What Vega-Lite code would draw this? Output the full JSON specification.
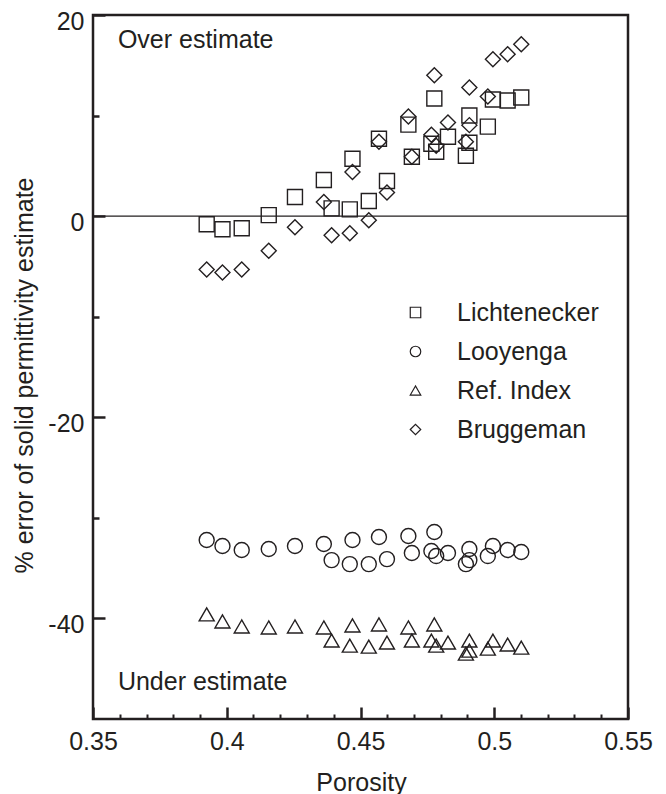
{
  "$schema": "https://vega.github.io/schema/vega-lite/v6.json",
  "width": 535,
  "height": 704,
  "autosize": {"type": "none"},
  "padding": {"left": 93, "top": 15, "right": 38, "bottom": 75},
  "config": {
    "font": "Liberation Sans",
    "view": {"stroke": "#231f20", "strokeWidth": 2.5},
    "axis": {
      "grid": false,
      "domain": false,
      "tickColor": "#231f20",
      "labelColor": "#231f20",
      "titleColor": "#231f20",
      "labelFontSize": 25,
      "titleFontSize": 25,
      "titleFontWeight": "normal",
      "zindex": 1
    }
  },
  "datasets": {
    "pts": [
      {"porosity": 0.3925, "method": "Lichtenecker", "error": -0.8},
      {"porosity": 0.3984, "method": "Lichtenecker", "error": -1.3},
      {"porosity": 0.4056, "method": "Lichtenecker", "error": -1.2},
      {"porosity": 0.4157, "method": "Lichtenecker", "error": 0.1},
      {"porosity": 0.4255, "method": "Lichtenecker", "error": 1.9},
      {"porosity": 0.4363, "method": "Lichtenecker", "error": 3.6},
      {"porosity": 0.4392, "method": "Lichtenecker", "error": 0.77},
      {"porosity": 0.446, "method": "Lichtenecker", "error": 0.67},
      {"porosity": 0.447, "method": "Lichtenecker", "error": 5.7},
      {"porosity": 0.4531, "method": "Lichtenecker", "error": 1.5},
      {"porosity": 0.4569, "method": "Lichtenecker", "error": 7.7},
      {"porosity": 0.4599, "method": "Lichtenecker", "error": 3.5},
      {"porosity": 0.4679, "method": "Lichtenecker", "error": 9.1},
      {"porosity": 0.4692, "method": "Lichtenecker", "error": 5.9},
      {"porosity": 0.4765, "method": "Lichtenecker", "error": 7.2},
      {"porosity": 0.4776, "method": "Lichtenecker", "error": 11.7},
      {"porosity": 0.4783, "method": "Lichtenecker", "error": 6.4},
      {"porosity": 0.4827, "method": "Lichtenecker", "error": 7.9},
      {"porosity": 0.4894, "method": "Lichtenecker", "error": 6.0},
      {"porosity": 0.4907, "method": "Lichtenecker", "error": 10.0},
      {"porosity": 0.4907, "method": "Lichtenecker", "error": 7.3},
      {"porosity": 0.4976, "method": "Lichtenecker", "error": 8.9},
      {"porosity": 0.4995, "method": "Lichtenecker", "error": 11.6},
      {"porosity": 0.505, "method": "Lichtenecker", "error": 11.5},
      {"porosity": 0.5101, "method": "Lichtenecker", "error": 11.8},

      {"porosity": 0.3925, "method": "Bruggeman", "error": -5.3},
      {"porosity": 0.3984, "method": "Bruggeman", "error": -5.6},
      {"porosity": 0.4056, "method": "Bruggeman", "error": -5.3},
      {"porosity": 0.4157, "method": "Bruggeman", "error": -3.45},
      {"porosity": 0.4255, "method": "Bruggeman", "error": -1.1},
      {"porosity": 0.4363, "method": "Bruggeman", "error": 1.4},
      {"porosity": 0.4392, "method": "Bruggeman", "error": -1.9},
      {"porosity": 0.446, "method": "Bruggeman", "error": -1.7},
      {"porosity": 0.447, "method": "Bruggeman", "error": 4.4},
      {"porosity": 0.4531, "method": "Bruggeman", "error": -0.4},
      {"porosity": 0.4569, "method": "Bruggeman", "error": 7.4},
      {"porosity": 0.4599, "method": "Bruggeman", "error": 2.35},
      {"porosity": 0.4679, "method": "Bruggeman", "error": 9.9},
      {"porosity": 0.4692, "method": "Bruggeman", "error": 5.9},
      {"porosity": 0.4765, "method": "Bruggeman", "error": 8.1},
      {"porosity": 0.4776, "method": "Bruggeman", "error": 14.0},
      {"porosity": 0.4783, "method": "Bruggeman", "error": 7.0},
      {"porosity": 0.4827, "method": "Bruggeman", "error": 9.3},
      {"porosity": 0.4894, "method": "Bruggeman", "error": 7.4},
      {"porosity": 0.4907, "method": "Bruggeman", "error": 12.8},
      {"porosity": 0.4907, "method": "Bruggeman", "error": 9.05},
      {"porosity": 0.4976, "method": "Bruggeman", "error": 11.9},
      {"porosity": 0.4995, "method": "Bruggeman", "error": 15.6},
      {"porosity": 0.505, "method": "Bruggeman", "error": 16.1},
      {"porosity": 0.5101, "method": "Bruggeman", "error": 17.1},

      {"porosity": 0.3925, "method": "Looyenga", "error": -32.2},
      {"porosity": 0.3984, "method": "Looyenga", "error": -32.8},
      {"porosity": 0.4056, "method": "Looyenga", "error": -33.2},
      {"porosity": 0.4157, "method": "Looyenga", "error": -33.1},
      {"porosity": 0.4255, "method": "Looyenga", "error": -32.8},
      {"porosity": 0.4363, "method": "Looyenga", "error": -32.6},
      {"porosity": 0.4392, "method": "Looyenga", "error": -34.2},
      {"porosity": 0.446, "method": "Looyenga", "error": -34.6},
      {"porosity": 0.447, "method": "Looyenga", "error": -32.2},
      {"porosity": 0.4531, "method": "Looyenga", "error": -34.6},
      {"porosity": 0.4569, "method": "Looyenga", "error": -31.9},
      {"porosity": 0.4599, "method": "Looyenga", "error": -34.1},
      {"porosity": 0.4679, "method": "Looyenga", "error": -31.8},
      {"porosity": 0.4692, "method": "Looyenga", "error": -33.5},
      {"porosity": 0.4765, "method": "Looyenga", "error": -33.3},
      {"porosity": 0.4776, "method": "Looyenga", "error": -31.4},
      {"porosity": 0.4783, "method": "Looyenga", "error": -33.8},
      {"porosity": 0.4827, "method": "Looyenga", "error": -33.5},
      {"porosity": 0.4894, "method": "Looyenga", "error": -34.6},
      {"porosity": 0.4907, "method": "Looyenga", "error": -33.1},
      {"porosity": 0.4907, "method": "Looyenga", "error": -34.2},
      {"porosity": 0.4976, "method": "Looyenga", "error": -33.8},
      {"porosity": 0.4995, "method": "Looyenga", "error": -32.8},
      {"porosity": 0.505, "method": "Looyenga", "error": -33.2},
      {"porosity": 0.5101, "method": "Looyenga", "error": -33.4},

      {"porosity": 0.3925, "method": "Ref. Index", "error": -39.6},
      {"porosity": 0.3984, "method": "Ref. Index", "error": -40.3},
      {"porosity": 0.4056, "method": "Ref. Index", "error": -40.8},
      {"porosity": 0.4157, "method": "Ref. Index", "error": -40.9},
      {"porosity": 0.4255, "method": "Ref. Index", "error": -40.8},
      {"porosity": 0.4363, "method": "Ref. Index", "error": -40.9},
      {"porosity": 0.4392, "method": "Ref. Index", "error": -42.2},
      {"porosity": 0.446, "method": "Ref. Index", "error": -42.7},
      {"porosity": 0.447, "method": "Ref. Index", "error": -40.7},
      {"porosity": 0.4531, "method": "Ref. Index", "error": -42.8},
      {"porosity": 0.4569, "method": "Ref. Index", "error": -40.6},
      {"porosity": 0.4599, "method": "Ref. Index", "error": -42.4},
      {"porosity": 0.4679, "method": "Ref. Index", "error": -40.9},
      {"porosity": 0.4692, "method": "Ref. Index", "error": -42.2},
      {"porosity": 0.4765, "method": "Ref. Index", "error": -42.2},
      {"porosity": 0.4776, "method": "Ref. Index", "error": -40.6},
      {"porosity": 0.4783, "method": "Ref. Index", "error": -42.7},
      {"porosity": 0.4827, "method": "Ref. Index", "error": -42.4},
      {"porosity": 0.4894, "method": "Ref. Index", "error": -43.5},
      {"porosity": 0.4907, "method": "Ref. Index", "error": -42.2},
      {"porosity": 0.4907, "method": "Ref. Index", "error": -43.2},
      {"porosity": 0.4976, "method": "Ref. Index", "error": -43.0},
      {"porosity": 0.4995, "method": "Ref. Index", "error": -42.2},
      {"porosity": 0.505, "method": "Ref. Index", "error": -42.6},
      {"porosity": 0.5101, "method": "Ref. Index", "error": -42.9}
    ]
  },
  "resolve": {"axis": {"x": "independent", "y": "independent"}},
  "layer": [
    {
      "data": {"values": [{}]},
      "mark": {"type": "rule", "color": "#231f20", "strokeWidth": 1.2},
      "encoding": {
        "y": {
          "datum": 0,
          "type": "quantitative",
          "scale": {"domain": [-50, 20], "nice": false, "zero": false},
          "axis": {
            "orient": "left",
            "values": [10, -10, -30],
            "offset": -6,
            "tickSize": 6,
            "tickWidth": 2.5,
            "labels": false,
            "title": null
          }
        }
      }
    },
    {
      "data": {"name": "pts"},
      "mark": {"type": "point", "filled": false, "size": 225, "strokeWidth": 1.4, "color": "#231f20", "opacity": 1},
      "encoding": {
        "x": {
          "field": "porosity",
          "type": "quantitative",
          "scale": {"domain": [0.35, 0.55], "nice": false, "zero": false},
          "axis": {
            "orient": "bottom",
            "values": [0.35, 0.4, 0.45, 0.5, 0.55],
            "offset": -12,
            "tickSize": 12,
            "tickWidth": 2.5,
            "labelPadding": 10,
            "labelExpr": "'' + datum.value",
            "labelFlush": false,
            "title": "Porosity",
            "titleX": 268,
            "titleY": 83,
            "titleBaseline": "alphabetic",
            "titleAlign": "center"
          }
        },
        "y": {
          "field": "error",
          "type": "quantitative",
          "scale": {"domain": [-50, 20], "nice": false, "zero": false},
          "axis": {
            "orient": "left",
            "values": [20, 0, -20, -40],
            "offset": -12,
            "tickSize": 12,
            "tickWidth": 2.5,
            "labelPadding": 9,
            "labelOffset": 6,
            "labelExpr": "'' + datum.value",
            "labelFlush": false,
            "title": "% error of solid permittivity estimate",
            "titleX": -73,
            "titleY": 360,
            "titleAngle": -90,
            "titleBaseline": "alphabetic",
            "titleAlign": "center"
          }
        },
        "shape": {
          "field": "method",
          "type": "nominal",
          "scale": {
            "domain": ["Lichtenecker", "Looyenga", "Ref. Index", "Bruggeman"],
            "range": ["square", "circle", "triangle-up", "diamond"]
          },
          "legend": {
            "orient": "none",
            "legendX": 310,
            "legendY": 285,
            "title": null,
            "padding": 0,
            "labelFontSize": 25,
            "labelColor": "#231f20",
            "labelOffset": 29,
            "rowPadding": 13,
            "symbolSize": 110,
            "symbolStrokeWidth": 1.2,
            "symbolStrokeColor": "#231f20"
          }
        }
      }
    },
    {
      "data": {"values": [{}]},
      "mark": {"type": "text", "align": "left", "baseline": "alphabetic", "fontSize": 25, "color": "#231f20"},
      "encoding": {
        "x": {
          "datum": 0.3593,
          "type": "quantitative",
          "axis": {
            "orient": "bottom",
            "values": [0.36, 0.37, 0.38, 0.39, 0.41, 0.42, 0.43, 0.44, 0.46, 0.47, 0.48, 0.49, 0.51, 0.52, 0.53, 0.54],
            "offset": -5,
            "tickSize": 5,
            "tickWidth": 2,
            "labels": false,
            "title": null
          }
        },
        "y": {"datum": 16.7, "type": "quantitative", "axis": null},
        "text": {"value": "Over estimate"}
      }
    },
    {
      "data": {"values": [{}]},
      "mark": {"type": "text", "align": "left", "baseline": "alphabetic", "fontSize": 25, "color": "#231f20"},
      "encoding": {
        "x": {"datum": 0.3593, "type": "quantitative", "axis": null},
        "y": {"datum": -47.1, "type": "quantitative", "axis": null},
        "text": {"value": "Under estimate"}
      }
    }
  ]
}
